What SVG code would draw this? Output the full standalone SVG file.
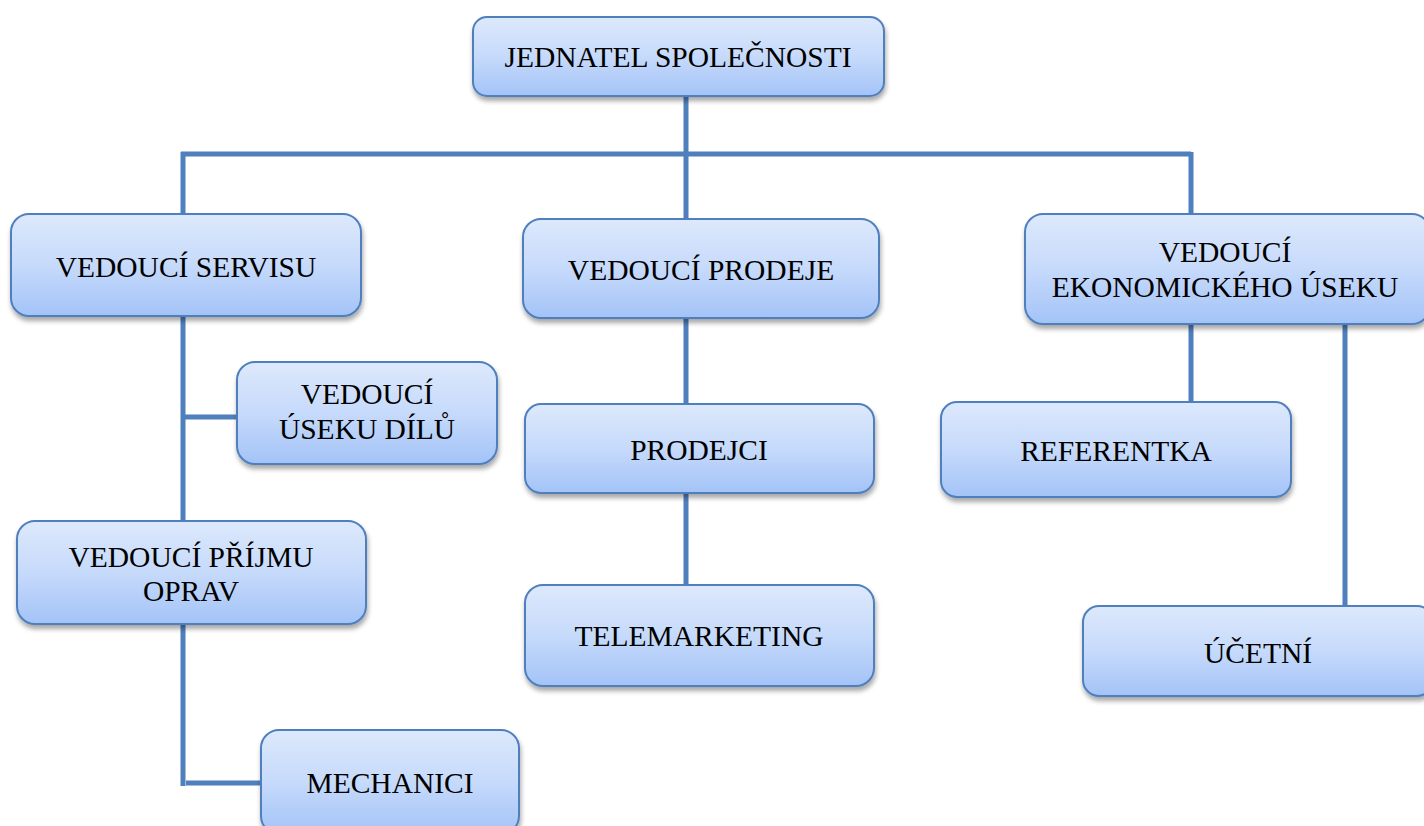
<svg xmlns="http://www.w3.org/2000/svg" width="1424" height="826" viewBox="0 0 1424 826">
<defs>
<linearGradient id="g" x1="0" y1="0" x2="0" y2="1">
<stop offset="0" stop-color="#dde9fc"/>
<stop offset="0.5" stop-color="#c6dafb"/>
<stop offset="1" stop-color="#a3c3f7"/>
</linearGradient>
<filter id="sh" x="-10%" y="-10%" width="120%" height="130%">
<feGaussianBlur in="SourceAlpha" stdDeviation="2.5"/>
<feOffset dx="1" dy="4" result="b"/>
<feComponentTransfer><feFuncA type="linear" slope="0.35"/></feComponentTransfer>
<feMerge><feMergeNode/><feMergeNode in="SourceGraphic"/></feMerge>
</filter>
</defs>
<style>
.box{fill:url(#g);stroke:#4f7fbd;stroke-width:2;filter:url(#sh)}
.t{font-family:"Liberation Serif","Times New Roman",serif;font-size:29.5px;fill:#000;text-anchor:middle}
.c{stroke:#4f7fbd;stroke-width:5;fill:none}
</style>
<rect width="1424" height="826" fill="#fff"/>
<g id="connectors">
<line class="c" x1="686" y1="96" x2="686" y2="219"/>
<line class="c" x1="181" y1="154" x2="1191" y2="154"/>
<line class="c" x1="183" y1="152" x2="183" y2="214"/>
<line class="c" x1="1191" y1="152" x2="1191" y2="214"/>
<line class="c" x1="183" y1="316" x2="183" y2="521"/>
<line class="c" x1="183" y1="417" x2="237" y2="417"/>
<line class="c" x1="183" y1="624" x2="183" y2="786"/>
<line class="c" x1="186" y1="783" x2="261" y2="783"/>
<line class="c" x1="686" y1="318" x2="686" y2="404"/>
<line class="c" x1="686" y1="493" x2="686" y2="585"/>
<line class="c" x1="1191" y1="324" x2="1191" y2="402"/>
<line class="c" x1="1345" y1="324" x2="1345" y2="607"/>
</g>
<g id="n-jednatel"><rect class="box" x="473" y="17" width="411" height="79" rx="14"/><text class="t" x="678" y="67">JEDNATEL SPOLEČNOSTI</text></g>
<g id="n-servis"><rect class="box" x="11" y="214" width="350" height="102" rx="18"/><text class="t" x="186" y="277">VEDOUCÍ SERVISU</text></g>
<g id="n-prodej"><rect class="box" x="523" y="219" width="356" height="99" rx="18"/><text class="t" x="701" y="280">VEDOUCÍ PRODEJE</text></g>
<g id="n-ekonom"><rect class="box" x="1025" y="214" width="405" height="110" rx="18"/><text class="t" x="1225" y="262">VEDOUCÍ</text><text class="t" x="1225" y="297">EKONOMICKÉHO ÚSEKU</text></g>
<g id="n-dily"><rect class="box" x="237" y="362" width="260" height="102" rx="18"/><text class="t" x="367" y="404">VEDOUCÍ</text><text class="t" x="367" y="439">ÚSEKU DÍLŮ</text></g>
<g id="n-prodejci"><rect class="box" x="525" y="404" width="349" height="89" rx="16"/><text class="t" x="699" y="460">PRODEJCI</text></g>
<g id="n-referentka"><rect class="box" x="941" y="402" width="350" height="95" rx="16"/><text class="t" x="1116" y="461">REFERENTKA</text></g>
<g id="n-prijem"><rect class="box" x="17" y="521" width="349" height="103" rx="18"/><text class="t" x="191" y="567">VEDOUCÍ PŘÍJMU</text><text class="t" x="191" y="601">OPRAV</text></g>
<g id="n-telemarketing"><rect class="box" x="525" y="585" width="349" height="101" rx="18"/><text class="t" x="699" y="646">TELEMARKETING</text></g>
<g id="n-ucetni"><rect class="box" x="1083" y="606" width="350" height="90" rx="16"/><text class="t" x="1258" y="663">ÚČETNÍ</text></g>
<g id="n-mechanici"><rect class="box" x="261" y="730" width="258" height="104" rx="18"/><text class="t" x="390" y="793">MECHANICI</text></g>
</svg>
